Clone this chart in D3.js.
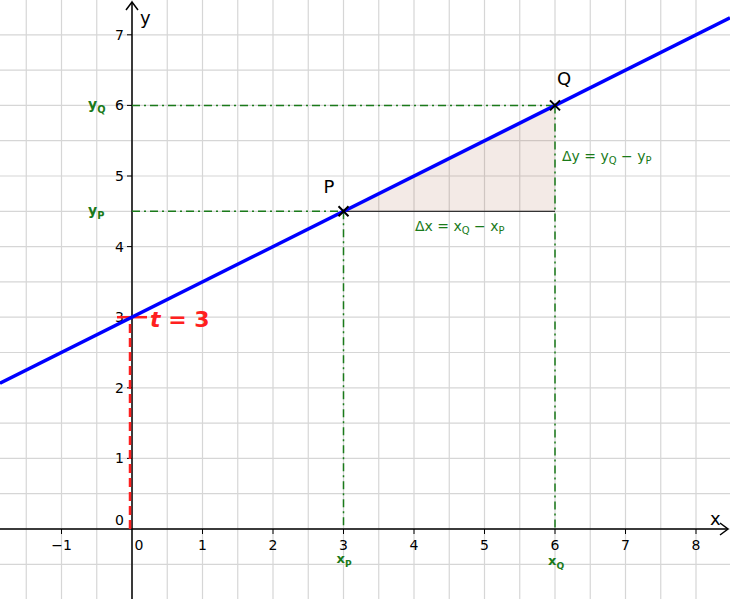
<!DOCTYPE html>
<html><head><meta charset="utf-8">
<script src="https://cdn.jsdelivr.net/npm/d3@7"></script>
<style>body{margin:0;background:#fff}text{font-family:"DejaVu Sans",sans-serif}</style>
</head><body><svg id="c"></svg>
<script>
// data
var slope = 0.5, intercept = 3;
var pointP = [3, 4.5], pointQ = [6, 6];
var xTicks = [-1, 0, 1, 2, 3, 4, 5, 6, 7, 8];
var yTicks = [0, 1, 2, 3, 4, 5, 6, 7];

var W = 730, H = 599;
var svg = d3.select('#c').attr('width', W).attr('height', H);
var x = d3.scaleLinear().domain([0, 1]).range([132, 202.5]);
var y = d3.scaleLinear().domain([0, 1]).range([529, 458.4]);
var xmin = x.invert(0), xmax = x.invert(W), ymin = y.invert(H), ymax = y.invert(0);

// grid every 0.5
var gx = d3.range(Math.ceil(xmin * 2) / 2, xmax, 0.5);
var gy = d3.range(Math.ceil(ymin * 2) / 2, ymax, 0.5);
svg.selectAll('.gx').data(gx).enter().append('line')
  .attr('x1', d => x(d)).attr('x2', d => x(d)).attr('y1', 0).attr('y2', H)
  .attr('stroke', '#d6d6d6').attr('stroke-width', 1.2);
svg.selectAll('.gy').data(gy).enter().append('line')
  .attr('y1', d => y(d)).attr('y2', d => y(d)).attr('x1', 0).attr('x2', W)
  .attr('stroke', '#d6d6d6').attr('stroke-width', 1.2);

// triangle
svg.append('path')
  .attr('d', d3.line()([[x(pointP[0]), y(pointP[1])], [x(pointQ[0]), y(pointQ[1])], [x(pointQ[0]), y(pointP[1])]]) + 'Z')
  .attr('fill', 'rgba(160,80,50,0.12)');
svg.append('line').attr('x1', x(pointP[0])).attr('x2', x(pointQ[0]))
  .attr('y1', y(pointP[1])).attr('y2', y(pointP[1])).attr('stroke', '#333').attr('stroke-width', 1.2);

// axes
svg.append('line').attr('x1', 0).attr('x2', W - 2).attr('y1', y(0)).attr('y2', y(0)).attr('stroke', '#000').attr('stroke-width', 1.5);
svg.append('line').attr('x1', x(0)).attr('x2', x(0)).attr('y1', 2).attr('y2', H).attr('stroke', '#000').attr('stroke-width', 1.5);
svg.append('path').attr('d', `M${W - 10},${y(0) - 6}L${W - 2},${y(0)}L${W - 10},${y(0) + 6}`).attr('fill', 'none').attr('stroke', '#000').attr('stroke-width', 1.5);
svg.append('path').attr('d', `M${x(0) - 6},10L${x(0)},2L${x(0) + 6},10`).attr('fill', 'none').attr('stroke', '#000').attr('stroke-width', 1.5);
svg.append('text').attr('x', W - 20).attr('y', y(0) - 4).attr('font-size', 18).text('x');
svg.append('text').attr('x', x(0) + 8).attr('y', 24).attr('font-size', 18).text('y');

svg.selectAll('.xt').data(xTicks).enter().append('g').each(function (d) {
  var g = d3.select(this);
  if (d !== 0) g.append('line').attr('x1', x(d)).attr('x2', x(d)).attr('y1', y(0)).attr('y2', y(0) + 5).attr('stroke', '#000');
  g.append('text').attr('x', d === 0 ? x(0) + 7 : x(d)).attr('y', y(0) + 21).attr('text-anchor', 'middle').attr('font-size', 14)
    .text(d < 0 ? '\u2212' + (-d) : d);
});
svg.selectAll('.yt').data(yTicks).enter().append('g').each(function (d) {
  var g = d3.select(this);
  if (d !== 0) g.append('line').attr('x1', x(0) - 5).attr('x2', x(0)).attr('y1', y(d)).attr('y2', y(d)).attr('stroke', '#000');
  g.append('text').attr('x', x(0) - 8).attr('y', d === 0 ? y(0) - 4 : y(d) + 5).attr('text-anchor', 'end').attr('font-size', 14).text(d);
});

// green dash-dot helpers
var green = '#1a7a1a', dd = '8,4,2,4';
function gl(x1, y1, x2, y2) {
  svg.append('line').attr('x1', x1).attr('y1', y1).attr('x2', x2).attr('y2', y2)
    .attr('stroke', green).attr('stroke-width', 1.5).attr('stroke-dasharray', dd);
}
gl(x(0), y(pointQ[1]), x(pointQ[0]), y(pointQ[1]));
gl(x(0), y(pointP[1]), x(pointP[0]), y(pointP[1]));
gl(x(pointP[0]), y(pointP[1]), x(pointP[0]), y(0));
gl(x(pointQ[0]), y(pointQ[1]), x(pointQ[0]), y(0));

// red dashed intercept
svg.append('line').attr('x1', x(0) - 2).attr('x2', x(0) - 2).attr('y1', y(0)).attr('y2', y(intercept))
  .attr('stroke', '#ff2020').attr('stroke-width', 2.5).attr('stroke-dasharray', '9,5');
svg.append('line').attr('x1', x(0) - 15).attr('x2', x(0) + 15).attr('y1', y(intercept)).attr('y2', y(intercept))
  .attr('stroke', '#ff2020').attr('stroke-width', 2.5);
svg.append('text').attr('x', x(0) + 18).attr('y', y(intercept) + 10).attr('fill', '#ff2020')
  .attr('font-size', 22).attr('font-weight', 'bold').attr('font-family', 'DejaVu Serif')
  .html('<tspan font-style="italic">t</tspan> = 3');

// main line
svg.append('line').attr('x1', x(xmin)).attr('y1', y(slope * xmin + intercept))
  .attr('x2', x(xmax)).attr('y2', y(slope * xmax + intercept)).attr('stroke', '#0000ff').attr('stroke-width', 3.5);

// points
[[pointP, 'P', -20, -18], [pointQ, 'Q', 2, -20]].forEach(function (p) {
  var cx = x(p[0][0]), cy = y(p[0][1]);
  svg.append('path').attr('d', `M${cx - 5},${cy - 5}L${cx + 5},${cy + 5}M${cx - 5},${cy + 5}L${cx + 5},${cy - 5}`)
    .attr('stroke', '#000').attr('stroke-width', 2);
  svg.append('text').attr('x', cx + p[2]).attr('y', cy + p[3]).attr('font-size', 18).text(p[1]);
});

// green labels
function sub(t, a, s, xx, yy, anchor, size) {
  svg.append('text').attr('x', xx).attr('y', yy).attr('fill', green).attr('font-size', size || 14)
    .attr('font-weight', 'bold').attr('text-anchor', anchor || 'start')
    .html(`${a}<tspan font-size="${(size || 14) * 0.7}" dy="4">${s}</tspan>`);
}
sub('', 'y', 'Q', 88, y(pointQ[1]) + 4);
sub('', 'y', 'P', 88, y(pointP[1]) + 4);
sub('', 'x', 'P', x(pointP[0]) - 7, y(0) + 34, 'start', 13);
sub('', 'x', 'Q', x(pointQ[0]) - 7, y(0) + 36, 'start', 13);
svg.append('text').attr('x', 415).attr('y', 231).attr('fill', green).attr('font-size', 14)
  .html('\u0394x = x<tspan font-size="10" dy="3">Q</tspan><tspan dy="-3"> \u2212 x</tspan><tspan font-size="10" dy="3">P</tspan>');
svg.append('text').attr('x', 562).attr('y', 161).attr('fill', green).attr('font-size', 14)
  .html('\u0394y = y<tspan font-size="10" dy="3">Q</tspan><tspan dy="-3"> \u2212 y</tspan><tspan font-size="10" dy="3">P</tspan>');
</script></body></html>
